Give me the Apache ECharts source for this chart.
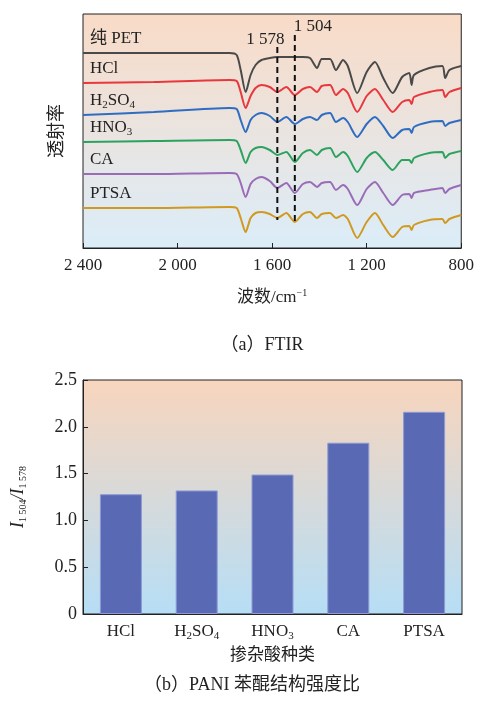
<!DOCTYPE html>
<html>
<head>
<meta charset="utf-8">
<script src="https://cdn.jsdelivr.net/npm/echarts@6/dist/echarts.min.js"></script>
<style>
html, body { margin: 0; padding: 0; background: #fff; }
#chart { width: 477px; height: 708px; }
</style>
</head>
<body>
<div id="chart"></div>
<script>
var myChart = echarts.init(document.getElementById('chart'));
var FONT = '"Liberation Serif", "Noto Sans CJK SC", serif';

// 波数 (cm-1)
var wavenumbers = [2400, 2100, 1780, 1750, 1733, 1712, 1691, 1670, 1645, 1610, 1578, 1540, 1504, 1470, 1440, 1410, 1390, 1355, 1330, 1300, 1280, 1240, 1200, 1165, 1130, 1090, 1050, 1020, 1010, 1000, 935, 880, 868, 850, 800];
// 透射率 (任意单位, 已错开)
var pet   = [195, 195, 195, 193, 178, 156, 173, 183, 188, 190, 191, 191, 191, 191, 190, 180, 189, 189, 178, 188, 182, 155, 176, 186, 170, 155, 171, 175, 163, 173, 180, 182, 170, 178, 182];
var hcl   = [165, 166, 168, 167, 156, 140, 152, 160, 163, 161, 156, 161, 153, 159, 161, 156, 162, 163, 153, 159, 155, 136, 152, 159, 148, 136, 146, 148, 144, 151, 156, 158, 151, 156, 160];
var h2so4 = [133, 136, 140, 139, 128, 116, 128, 133, 135, 132, 126, 131, 124, 129, 131, 128, 133, 135, 126, 130, 126, 111, 124, 131, 122, 110, 118, 119, 115, 121, 126, 127, 122, 125, 128];
var hno3  = [106, 107, 108, 107, 98, 85, 96, 100, 101, 98, 93, 96, 86, 95, 98, 93, 98, 100, 91, 96, 92, 76, 90, 96, 88, 78, 88, 88, 85, 90, 95, 96, 90, 94, 97];
var ca    = [74, 74, 75, 74, 65, 51, 64, 69, 71, 67, 60, 65, 55, 64, 66, 61, 65, 66, 58, 63, 59, 43, 59, 66, 55, 43, 53, 54, 50, 55, 58, 60, 55, 59, 63];
var ptsa  = [40, 40, 41, 40, 30, 16, 30, 35, 36, 34, 30, 35, 26, 34, 36, 30, 34, 35, 30, 33, 29, 10, 26, 35, 23, 11, 21, 22, 18, 23, 28, 29, 25, 29, 33];
var spectraNames = ['纯 PET', 'HCl', 'H2SO4', 'HNO3', 'CA', 'PTSA'];
var spectraLabels = ['{n|纯 PET}', '{n|HCl}', '{n|H}{s|2}{n|SO}{s|4}', '{n|HNO}{s|3}', '{n|CA}', '{n|PTSA}'];
var spectraColors = ['#4a4a4a', '#e8383d', '#2f6dc3', '#2ba35f', '#9a6cb8', '#d09a22'];
var spectra = [pet, hcl, h2so4, hno3, ca, ptsa];
var xTicks = [2400, 2000, 1600, 1200, 800];
// 特征峰虚线
var peakWn = [1578, 1504];
var peakTop = [201, 213];
var peakBottom = [28, 25];

// 苯醌结构强度比
var acids = ['HCl', 'H2SO4', 'HNO3', 'CA', 'PTSA'];
var acidLabels = {'HCl': '{n|HCl}', 'H2SO4': '{n|H}{s|2}{n|SO}{s|4}', 'HNO3': '{n|HNO}{s|3}', 'CA': '{n|CA}', 'PTSA': '{n|PTSA}'};
var ratio = [1.28, 1.32, 1.49, 1.83, 2.16];

var richSub = {
	n: { fontFamily: FONT, fontSize: 17, lineHeight: 20, color: '#222' },
	s: { fontFamily: FONT, fontSize: 11, lineHeight: 11, verticalAlign: 'bottom', color: '#222' }
};

function bg(top, bottom) {
	return new echarts.graphic.LinearGradient(0, 0, 0, 1, [
		{ offset: 0, color: top },
		{ offset: 1, color: bottom }
	]);
}

var series = [];
spectra.forEach(function (vals, k) {
	series.push({
		name: spectraNames[k],
		type: 'line',
		xAxisIndex: 0,
		yAxisIndex: 0,
		data: wavenumbers.map(function (w, i) { return [w, vals[i]]; }),
		showSymbol: false,
		smooth: 0.25,
		lineStyle: { color: spectraColors[k], width: 2 },
		silent: true,
		markPoint: {
			symbolSize: 0,
			silent: true,
			data: [{ coord: [wavenumbers[0], vals[0]] }],
			label: {
				show: true,
				position: 'right',
				distance: 7,
				offset: [0, -14],
				formatter: spectraLabels[k],
				rich: richSub
			}
		}
	});
});

peakWn.forEach(function (w, k) {
	series.push({
		type: 'line',
		xAxisIndex: 0,
		yAxisIndex: 0,
		data: [[w, peakTop[k]], [w, peakBottom[k]]],
		showSymbol: false,
		silent: true,
		lineStyle: { color: '#111', width: 2, type: [6, 4] },
		markPoint: {
			symbolSize: 0,
			silent: true,
			data: [{ coord: [w, peakTop[k]] }],
			label: {
				show: true,
				position: 'top',
				distance: 2,
				offset: k === 0 ? [-12, 3] : [18, 2],
				formatter: String(w).replace(/(\d)(\d{3})$/, '$1 $2'),
				fontFamily: FONT,
				fontSize: 17,
				color: '#222'
			}
		}
	});
});

series.push({
	name: '强度比',
	type: 'bar',
	xAxisIndex: 1,
	yAxisIndex: 1,
	data: ratio,
	barWidth: 42,
	itemStyle: { color: '#5a69b3', borderColor: '#8d9ad6', borderWidth: 1 }
});

var option = {
	animation: false,
	textStyle: { fontFamily: FONT },
	title: [
		{ text: '（a）FTIR', left: 257, top: 331, textAlign: 'center',
			textStyle: { fontFamily: FONT, fontSize: 18, fontWeight: 'normal', color: '#222' } },
		{ text: '（b）PANI 苯醌结构强度比', left: 247, top: 671, textAlign: 'center',
			textStyle: { fontFamily: FONT, fontSize: 18, fontWeight: 'normal', color: '#222' } }
	],
	grid: [
		{ left: 83, top: 14, width: 379, height: 234, show: true,
			backgroundColor: bg('#f9dbc7', '#dbedf9'), borderColor: '#222', borderWidth: 1 },
		{ left: 83, top: 380, width: 379, height: 234, show: true,
			backgroundColor: bg('#f8d5bd', '#b6def6'), borderColor: '#222', borderWidth: 1 }
	],
	xAxis: [
		{
			gridIndex: 0,
			type: 'value',
			inverse: true,
			min: 800,
			max: 2400,
			interval: 400,
			axisLine: { show: true, lineStyle: { color: '#222' } },
			axisTick: { show: true, inside: true, length: 5, lineStyle: { color: '#222' } },
			splitLine: { show: false },
			axisLabel: {
				margin: 9,
				fontFamily: FONT,
				fontSize: 17,
				color: '#222',
				formatter: function (v) { return xTicks.indexOf(v) >= 0 ? String(v).replace(/(\d)(\d{3})$/, '$1 $2') : ''; }
			},
			name: '{n|波数/cm}{s|−1}',
			nameLocation: 'middle',
			nameGap: 40,
			nameTextStyle: {
				rich: {
					n: { fontFamily: FONT, fontSize: 17, lineHeight: 20, color: '#222' },
					s: { fontFamily: FONT, fontSize: 10, lineHeight: 10, verticalAlign: 'top', color: '#222' }
				}
			}
		},
		{
			gridIndex: 1,
			type: 'category',
			data: acids,
			axisLine: { show: true, lineStyle: { color: '#222' } },
			axisTick: { show: false },
			axisLabel: {
				interval: 0,
				margin: 8,
				formatter: function (v) { return acidLabels[v]; },
				rich: richSub
			},
			name: '掺杂酸种类',
			nameLocation: 'middle',
			nameGap: 33,
			nameTextStyle: { fontFamily: FONT, fontSize: 17, color: '#222' }
		}
	],
	yAxis: [
		{
			gridIndex: 0,
			type: 'value',
			min: 0,
			max: 234,
			axisLine: { show: false },
			axisTick: { show: false },
			axisLabel: { show: false },
			splitLine: { show: false },
			name: '透射率',
			nameLocation: 'middle',
			nameRotate: 90,
			nameGap: 17,
			nameTextStyle: { fontFamily: FONT, fontSize: 18, color: '#222' }
		},
		{
			gridIndex: 1,
			type: 'value',
			min: 0,
			max: 2.5,
			interval: 0.5,
			axisLine: { show: true, lineStyle: { color: '#222' } },
			axisTick: { show: true, inside: true, length: 5, lineStyle: { color: '#222' } },
			splitLine: { show: false },
			axisLabel: {
				margin: 6,
				fontFamily: FONT,
				fontSize: 18,
				color: '#222',
				formatter: function (v) { return v === 0 ? '0' : v.toFixed(1); }
			},
			name: '{i|I}{s|1 504}{i|/I}{s|1 578}',
			nameLocation: 'middle',
			nameRotate: 90,
			nameGap: 55,
			nameTextStyle: {
				rich: {
					i: { fontFamily: FONT, fontSize: 18, lineHeight: 20, fontStyle: 'italic', color: '#222' },
					s: { fontFamily: FONT, fontSize: 10, lineHeight: 10, verticalAlign: 'bottom', color: '#222' }
				}
			}
		}
	],
	series: series
};
myChart.setOption(option);

window.addEventListener('resize', function () {
	myChart.resize();
});
</script>
</body>
</html>
